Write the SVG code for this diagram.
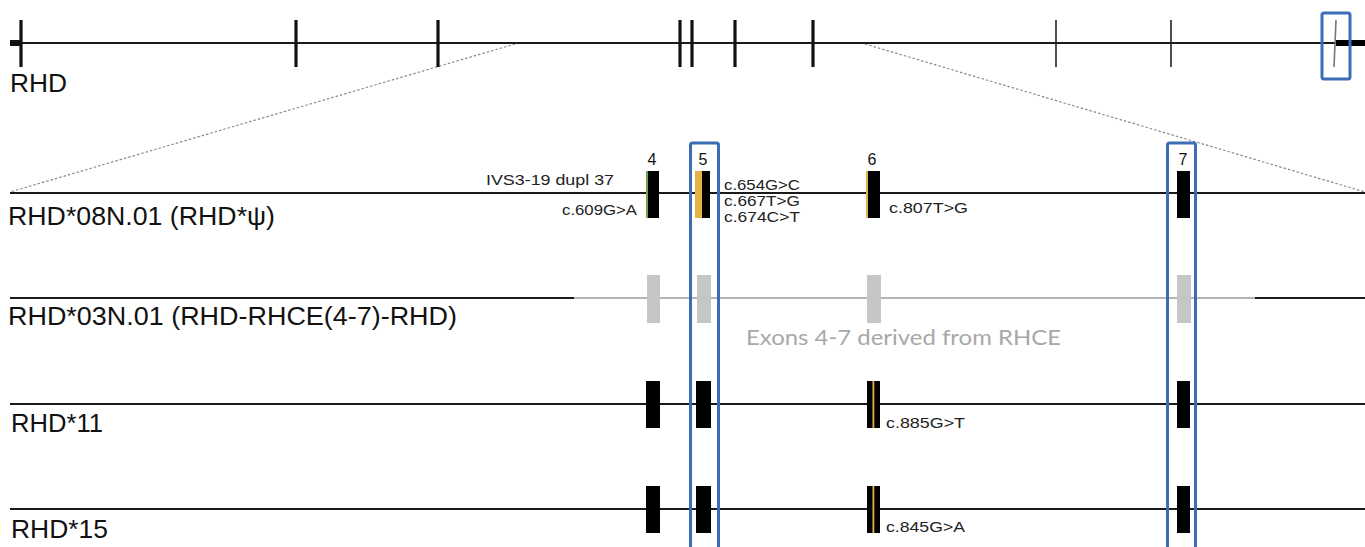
<svg xmlns="http://www.w3.org/2000/svg" width="1365" height="547" viewBox="0 0 1365 547">
<defs>
<style>
.bg{fill:#ffffff}
.gene{stroke:#1a1a1a;stroke-width:2;fill:none}
.grey{stroke:#9a9a9a;stroke-width:1.6;fill:none}
.tk{stroke:#111;stroke-width:3.2}
.tn{stroke:#222;stroke-width:1.6}
.dot{stroke:#8a8a8a;stroke-width:1.2;stroke-dasharray:2.5 2;fill:none}
.box{fill:none;stroke:#3b6db5;stroke-width:3}
.ex{fill:#000}
.gx{fill:#c6c6c6}
.yl{fill:#e3b443}
.big{font-family:"Liberation Sans",Arial,sans-serif;font-size:26px;fill:#111}
.sm{font-family:"Liberation Sans",Arial,sans-serif;font-size:15px;fill:#222}
.num{font-family:"Liberation Sans",Arial,sans-serif;font-size:16px;fill:#111;text-anchor:middle}
.note{font-family:Lato,"Open Sans",sans-serif;font-size:21px;fill:#a8a8a8}
</style>
</defs>
<rect class="bg" x="0" y="0" width="1365" height="547"/>

<g id="connectors">
<line class="dot" x1="515" y1="44" x2="10" y2="192"/>
<line class="dot" x1="865" y1="44" x2="1365" y2="192"/>
</g>

<g id="rhd-overview">
<line class="gene" x1="10" y1="43" x2="1365" y2="43"/>
<rect x="10" y="40" width="10" height="6" fill="#111"/>
<rect x="1336" y="40" width="29" height="6" fill="#000"/>
<line class="tk" x1="21" y1="20" x2="21" y2="67"/>
<line class="tk" x1="296" y1="20" x2="296" y2="67"/>
<line class="tk" x1="438" y1="20" x2="438" y2="67"/>
<line class="tk" x1="680" y1="20" x2="680" y2="67"/>
<line class="tk" x1="692" y1="20" x2="692" y2="67"/>
<line class="tk" x1="735" y1="20" x2="735" y2="67"/>
<line class="tk" x1="813" y1="20" x2="813" y2="67"/>
<line class="tn" x1="1056" y1="20" x2="1056" y2="67"/>
<line class="tn" x1="1171" y1="20" x2="1171" y2="67"/>
<line x1="1336" y1="20" x2="1334" y2="67" stroke="#777" stroke-width="1.6"/>
<rect class="box" x="1322" y="13" width="28" height="66" rx="2"/>
<text class="big" x="10" y="92" textLength="57" lengthAdjust="spacingAndGlyphs">RHD</text>
</g>

<g id="row-08N01">
<line class="gene" x1="10" y1="193" x2="1365" y2="193"/>
<rect class="ex" x="646" y="171" width="13" height="47"/>
<rect x="646" y="171" width="2" height="47" fill="#6aa84f"/>
<rect class="yl" x="695" y="171" width="7" height="47"/>
<rect class="ex" x="702" y="171" width="8" height="47"/>
<rect class="ex" x="867" y="171" width="13" height="47"/>
<rect class="yl" x="866" y="171" width="2" height="47"/>
<rect class="ex" x="1177" y="171" width="13" height="47"/>
<text class="num" x="652" y="165">4</text>
<text class="num" x="703" y="165">5</text>
<text class="num" x="872" y="165">6</text>
<text class="num" x="1183" y="165">7</text>
<text class="sm" x="486" y="185" font-size="16" textLength="128" lengthAdjust="spacingAndGlyphs">IVS3-19 dupl 37</text>
<text class="sm" x="562" y="215" textLength="75" lengthAdjust="spacingAndGlyphs">c.609G&gt;A</text>
<text class="sm" x="724" y="190" textLength="76" lengthAdjust="spacingAndGlyphs">c.654G&gt;C</text>
<text class="sm" x="724" y="206" textLength="76" lengthAdjust="spacingAndGlyphs">c.667T&gt;G</text>
<text class="sm" x="724" y="222" textLength="76" lengthAdjust="spacingAndGlyphs">c.674C&gt;T</text>
<text class="sm" x="889" y="213" textLength="79" lengthAdjust="spacingAndGlyphs">c.807T&gt;G</text>
<text class="big" x="8" y="225" font-size="27" textLength="267" lengthAdjust="spacingAndGlyphs">RHD*08N.01 (RHD*ψ)</text>
</g>

<g id="row-03N01">
<line class="gene" x1="10" y1="298" x2="574" y2="298"/>
<line class="grey" x1="574" y1="298" x2="1255" y2="298"/>
<line class="gene" x1="1255" y1="298" x2="1365" y2="298"/>
<rect class="gx" x="647" y="275" width="13" height="48"/>
<rect class="gx" x="697" y="275" width="14" height="48"/>
<rect class="gx" x="867" y="275" width="14" height="48"/>
<rect class="gx" x="1177" y="275" width="14" height="48"/>
<text class="big" x="8" y="325" font-size="27" textLength="449" lengthAdjust="spacingAndGlyphs">RHD*03N.01 (RHD-RHCE(4-7)-RHD)</text>
<text class="note" x="746" y="345" textLength="315" lengthAdjust="spacingAndGlyphs">Exons 4-7 derived from RHCE</text>
</g>

<g id="row-11">
<line class="gene" x1="10" y1="404" x2="1365" y2="404"/>
<rect class="ex" x="646" y="381" width="14" height="47"/>
<rect class="ex" x="696" y="381" width="15" height="47"/>
<rect class="ex" x="867" y="381" width="13" height="47"/>
<rect class="yl" x="872.5" y="381" width="1.8" height="47"/>
<rect class="ex" x="1177" y="381" width="13" height="47"/>
<text class="sm" x="886" y="428" font-size="16" textLength="79" lengthAdjust="spacingAndGlyphs">c.885G&gt;T</text>
<text class="big" x="11" y="432" textLength="92" lengthAdjust="spacingAndGlyphs">RHD*11</text>
</g>

<g id="row-15">
<line class="gene" x1="10" y1="509" x2="1365" y2="509"/>
<rect class="ex" x="646" y="486" width="14" height="47"/>
<rect class="ex" x="696" y="486" width="15" height="47"/>
<rect class="ex" x="867" y="486" width="13" height="47"/>
<rect class="yl" x="872.5" y="486" width="1.8" height="47"/>
<rect class="ex" x="1177" y="486" width="13" height="47"/>
<text class="sm" x="886" y="532" font-size="16" textLength="79" lengthAdjust="spacingAndGlyphs">c.845G&gt;A</text>
<text class="big" x="11" y="538" textLength="97" lengthAdjust="spacingAndGlyphs">RHD*15</text>
</g>

<g id="highlight-exon5">
<rect class="box" x="690.5" y="143" width="28" height="420" rx="2"/>
</g>
<g id="highlight-exon7">
<rect class="box" x="1167.5" y="143" width="28" height="420" rx="2"/>
</g>
</svg>
